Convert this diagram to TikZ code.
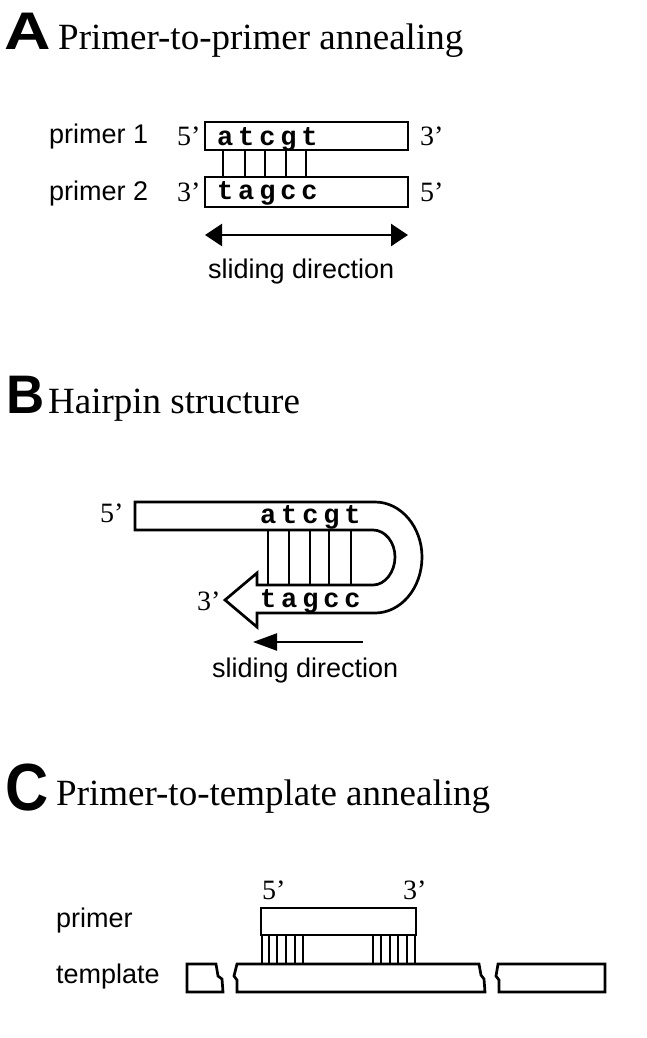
\documentclass[tikz,border=0pt]{standalone}
\usepackage{fontspec}
\setmainfont{Liberation Serif}
\setsansfont{Liberation Sans}
\setmonofont{Liberation Mono}
\usetikzlibrary{arrows.meta}

\tikzset{
  panel/.style={font=\sffamily\bfseries\fontsize{46}{46}\selectfont, inner sep=0pt, anchor=base west},
  title/.style={font=\fontsize{37}{40}\selectfont, inner sep=0pt, anchor=base west},
  lbl/.style={font=\sffamily\fontsize{27}{30}\selectfont, inner sep=0pt, anchor=base west},
  prime/.style={font=\fontsize{28}{30}\selectfont, inner sep=0pt, anchor=base west},
  seq/.style={font=\ttfamily\bfseries\fontsize{27}{27}\selectfont\addfontfeature{LetterSpace=18}, inner sep=0pt, anchor=base west},
  strand/.style={draw, line width=2.7pt, inner sep=0pt},
  rung/.style={line width=1.9pt},
}

\begin{document}
\begin{tikzpicture}[x=1pt, y=-1pt]
    \useasboundingbox[fill=white] (0,0) rectangle (646,1038);
    % A: primer-to-primer
    \node[panel] (labA) at (4,50) {\scalebox{1.4}[1.15]{A}};
    \node[title] (titA) at (58,50) {Primer-to-primer annealing};
    \node[lbl] (nameA1) at (49,143) {primer 1};
    \node[lbl] (nameA2) at (49,200) {primer 2};
    \node[strand, minimum width=203pt, minimum height=28pt] (p1) at (306.5,136) {};
    \node[strand, minimum width=203pt, minimum height=30pt] (p2) at (306.5,192) {};
    \node[seq] (seqA1) at (217,146) {atcgt};
    \node[seq] (seqA2) at (217,199) {tagcc};
    \node[prime] (endA1) at (177,145) {5'};
    \node[prime] (endA2) at (420,145) {3'};
    \node[prime] (endA3) at (177,201) {3'};
    \node[prime] (endA4) at (420,201) {5'};
    \foreach \x in {223,245,265,286,306}
        \draw[rung] (p1.south -| \x,0) -- (p2.north -| \x,0);
    \coordinate (slA1) at (205,235);
    \coordinate (slA2) at (408,235);
    \draw[line width=2.6pt, {Triangle[length=17pt,width=22pt]}-{Triangle[length=17pt,width=22pt]}] (slA1) -- (slA2);
    \node[lbl] (slideA) at (208,278) {sliding direction};
    % B: hairpin
    \node[panel] (labB) at (6,413) {\scalebox{1.15}[1.18]{B}};
    \node[title] (titB) at (48,413) {Hairpin structure};
    \draw[line width=2.7pt, line join=miter] (135,502) -- (375,502)
        .. controls (401,502) and (422,527) .. (422,557)
        .. controls (422,588) and (401,613) .. (375,613)
        -- (257,613) -- (257,627) -- (225,600) -- (257,573) -- (257,585) -- (373,585)
        .. controls (385,585) and (395,572) .. (395,557)
        .. controls (395,542) and (385,530) .. (373,530)
        -- (135,530) -- cycle;
    \foreach \x in {268,289,310,329,351}
        \draw[rung] (\x,530) -- (\x,585);
    \node[seq] (seqB1) at (260,523) {atcgt};
    \node[seq] (seqB2) at (260,607) {tagcc};
    \node[prime] (endB1) at (100,522) {5'};
    \node[prime] (endB2) at (197,610) {3'};
    \coordinate (slB1) at (363,642);
    \coordinate (slB2) at (253,642);
    \draw[line width=2.2pt, -{Triangle[length=24pt,width=17pt]}] (slB1) -- (slB2);
    \node[lbl] (slideB) at (212,677) {sliding direction};
    % C: primer-to-template
    \node[panel] (labC) at (5,810) {\scalebox{1.3}[1.45]{C}};
    \node[title] (titC) at (56,805) {Primer-to-template annealing};
    \node[lbl] (nameC1) at (56,927) {primer};
    \node[lbl] (nameC2) at (56,983) {template};
    \node[strand, minimum width=155pt, minimum height=27pt] (pr) at (338.5,921.5) {};
    \node[prime] (endC1) at (262,899) {5'};
    \node[prime] (endC2) at (403,899) {3'};
    \foreach \x in {262,269,277,286,295,303,373,381,390,398,407,415}
        \draw[rung] (pr.south -| \x,0) -- (\x,964);
    % template pieces
    \draw[line width=2.7pt] (187,964) -- (216,964) -- (218,976) -- (222,979) -- (223,992) -- (187,992) -- cycle;
    \draw[line width=2.7pt] (237,964) -- (479,964) -- (481,975) -- (484,979) -- (485,992) -- (237,992) -- (237,980) -- (234,976) -- cycle;
    \draw[line width=2.7pt] (498,964) -- (605,964) -- (605,992) -- (499,992) -- (499,980) -- (496,976) -- cycle;
\end{tikzpicture}
\end{document}
